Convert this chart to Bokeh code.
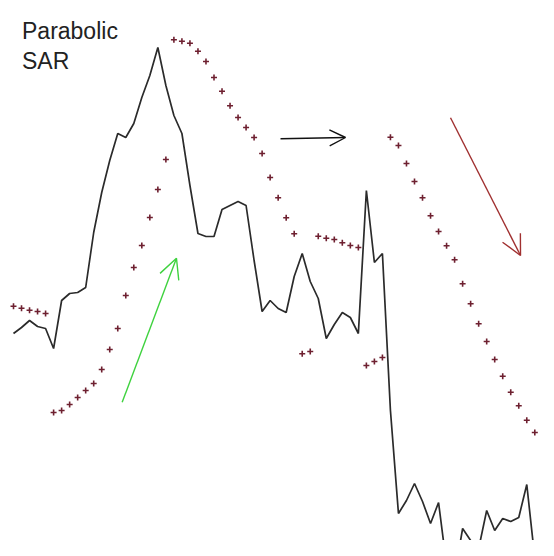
from bokeh.plotting import figure
from bokeh.models import Range1d, Label, Arrow, OpenHead
from bokeh.embed import file_html
from bokeh.resources import INLINE

# Bar index (one per period)
bars = list(range(68))

# Closing price (arbitrary units)
price = [223, 229, 236, 230, 228, 208, 256, 263, 264, 269,
         324, 364, 396, 423, 419, 433, 459, 481, 509, 471,
         441, 423, 371, 323, 320, 320, 347, 351, 355, 351,
         296, 245, 256, 248, 244, 280, 303, 275, 258, 218,
         232, 244, 239, 223, 366, 294, 303, 146, 43, 56,
         73, 55, 33, 54, -9, -19, 28, 16, 8, 46,
         26, 38, 35, 39, 72, -2, -24, 66]

# Parabolic SAR values
sar = [250.3, 248.3, 246.3, 245, 243, 144, 146, 152, 159, 166,
       173, 187, 207, 228, 261, 289, 311, 339, 367, 397,
       516.7, 515.3, 513.3, 505.3, 495, 479, 465.3, 450.7, 439, 429,
       419, 403, 379, 358.7, 338.7, 322.7, 202.7, 205, 320.3, 318.3,
       317, 313.7, 311, 309, 191, 195, 199, 419.3, 411, 393,
       375, 358.7, 340.7, 325, 310.7, 296.7, 272.7, 252.7, 232.7, 215,
       197, 180.3, 164.3, 150.7, 136.3, 124, 108.3, 86.3]

# Annotation arrows: (x_start, y_start, x_end, y_end) in bar / price units
arrow_up = [13.55, 154.3, 20.32, 298.3]
arrow_right = [33.29, 417.7, 41.4, 419.0]
arrow_down = [54.49, 438.7, 63.22, 301.0]

title_lines = ["Parabolic", "SAR"]

W, H = 538, 540
p = figure(width=W, height=H, output_backend="svg", toolbar_location=None,
           x_range=Range1d(-13 / 8.02, (W - 13) / 8.02), y_range=Range1d(16, 556),
           min_border=0, x_axis_location=None, y_axis_location=None)
p.grid.visible = False
p.outline_line_color = None
p.background_fill_color = "white"
p.border_fill_color = "white"

p.line(bars, price, line_color="#2b2b2b", line_width=1.7)
p.scatter(bars, sar, marker="cross", size=6, line_color="#6e2030", line_width=1.6)

for coords, col, sz, lw in [(arrow_up, "#3fd23f", 20, 1.4),
                            (arrow_right, "#111111", 16, 1.4),
                            (arrow_down, "#a03030", 20, 1.4)]:
    p.add_layout(Arrow(x_start=coords[0], y_start=coords[1],
                       x_end=coords[2], y_end=coords[3],
                       line_color=col, line_width=lw,
                       end=OpenHead(size=sz, line_color=col, line_width=lw)))

p.add_layout(Label(x=21.5, y=510, x_units="screen", y_units="screen",
                   text=title_lines[0], text_font="Liberation Sans",
                   text_font_size="23px", text_color="#222222",
                   text_baseline="alphabetic"))
p.add_layout(Label(x=21.5, y=480, x_units="screen", y_units="screen",
                   text=title_lines[1], text_font="Liberation Sans",
                   text_font_size="23px", text_color="#222222",
                   text_baseline="alphabetic"))

open("out.html", "w").write(file_html(p, INLINE))
